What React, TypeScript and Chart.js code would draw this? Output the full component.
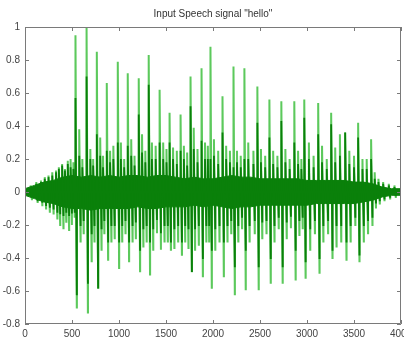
import { useEffect, useRef } from 'react';
import { Chart, registerables } from 'chart.js';

Chart.register(...registerables);

const titleText = 'Input Speech signal "hello"';
const xTicks = [0, 500, 1000, 1500, 2000, 2500, 3000, 3500, 4000];
const yTicks = [-0.8, -0.6, -0.4, -0.2, 0, 0.2, 0.4, 0.6, 0.8, 1];

// main pitch pulses (sample index, positive peak, negative peak)
const pulseX = [537, 655, 764, 870, 987, 1093, 1210, 1316, 1432, 1538, 1655, 1761, 1878, 1973, 2101, 2218, 2334, 2472, 2600, 2727, 2865, 2971, 3119, 3257, 3406, 3544, 3682];
const pulseHi = [0.95, 1.0, 0.85, 0.66, 0.79, 0.72, 0.69, 0.83, 0.62, 0.48, 0.47, 0.70, 0.75, 0.88, 0.58, 0.76, 0.75, 0.64, 0.56, 0.55, 0.55, 0.56, 0.54, 0.48, 0.36, 0.42, 0.32];
const pulseLo = [-0.70, -0.73, -0.58, -0.41, -0.46, -0.42, -0.48, -0.50, -0.35, -0.35, -0.38, -0.48, -0.51, -0.58, -0.51, -0.62, -0.59, -0.59, -0.55, -0.55, -0.53, -0.52, -0.49, -0.40, -0.41, -0.42, -0.20];
// darker inner part of the pulses
const pulseDarkHi = [0.57, 0.70, 0.35, 0.25, 0.30, 0.28, 0.47, 0.65, 0.30, 0.30, 0.25, 0.52, 0.31, 0.20, 0.36, 0.15, 0.20, 0.42, 0.33, 0.43, 0.30, 0.45, 0.35, 0.41, 0.36, 0.33, 0.20];
const pulseDarkLo = [-0.62, -0.55, -0.58, -0.30, -0.30, -0.30, -0.35, -0.30, -0.25, -0.30, -0.30, -0.48, -0.40, -0.35, -0.30, -0.45, -0.35, -0.45, -0.40, -0.45, -0.35, -0.42, -0.40, -0.35, -0.30, -0.38, -0.15];

// secondary oscillations
const secX = [60, 120, 170, 210, 250, 290, 330, 360, 395, 425, 455, 485, 515,
  577, 610, 695, 725, 800, 830, 905, 940, 1020, 1055, 1130, 1165, 1245, 1280, 1350, 1390,
  1470, 1505, 1575, 1615, 1690, 1725, 1795, 1835, 1915, 1945, 2010, 2055, 2140, 2180,
  2255, 2295, 2375, 2430, 2510, 2555, 2640, 2685, 2770, 2815, 2905, 2940, 3020, 3070,
  3160, 3210, 3300, 3350, 3450, 3500, 3590, 3635, 3720, 3760, 3810, 3870, 3930];
const secHi = [0.04, 0.06, 0.07, 0.09, 0.10, 0.12, 0.13, 0.15, 0.17, 0.14, 0.19, 0.20, 0.18,
  0.38, 0.20, 0.26, 0.20, 0.33, 0.22, 0.25, 0.28, 0.30, 0.20, 0.32, 0.22, 0.35, 0.25, 0.30, 0.28,
  0.30, 0.26, 0.27, 0.25, 0.28, 0.24, 0.39, 0.26, 0.30, 0.28, 0.32, 0.25, 0.28, 0.25,
  0.25, 0.22, 0.30, 0.25, 0.26, 0.22, 0.25, 0.22, 0.26, 0.20, 0.25, 0.20, 0.30, 0.22,
  0.28, 0.20, 0.27, 0.35, 0.25, 0.22, 0.20, 0.20, 0.12, 0.08, 0.06, 0.05, 0.04];
const secLo = [-0.05, -0.06, -0.08, -0.10, -0.12, -0.13, -0.16, -0.20, -0.22, -0.18, -0.23, -0.20, -0.15,
  -0.30, -0.25, -0.42, -0.30, -0.35, -0.25, -0.30, -0.28, -0.30, -0.25, -0.30, -0.28, -0.33, -0.30, -0.35, -0.25,
  -0.30, -0.30, -0.34, -0.30, -0.30, -0.34, -0.35, -0.32, -0.30, -0.30, -0.35, -0.30, -0.30, -0.25,
  -0.30, -0.22, -0.30, -0.25, -0.28, -0.25, -0.30, -0.22, -0.28, -0.22, -0.26, -0.22, -0.35, -0.25,
  -0.30, -0.25, -0.33, -0.30, -0.30, -0.20, -0.30, -0.25, -0.10, -0.07, -0.05, -0.04, -0.03];
// darker part of the secondary oscillations
const secDarkHi = [0.03, 0.05, 0.06, 0.08, 0.09, 0.10, 0.12, 0.14, 0.16, 0.13, 0.17, 0.15, 0.14,
  0.22, 0.15, 0.20, 0.16, 0.22, 0.15, 0.18, 0.20, 0.20, 0.15, 0.22, 0.16, 0.24, 0.18, 0.20, 0.20,
  0.20, 0.18, 0.20, 0.17, 0.20, 0.16, 0.26, 0.18, 0.20, 0.20, 0.22, 0.17, 0.20, 0.18,
  0.18, 0.15, 0.20, 0.17, 0.18, 0.15, 0.17, 0.15, 0.18, 0.14, 0.17, 0.14, 0.20, 0.15,
  0.18, 0.14, 0.18, 0.22, 0.17, 0.15, 0.14, 0.14, 0.08, 0.06, 0.05, 0.04, 0.03];
const secDarkLo = [-0.03, -0.05, -0.06, -0.08, -0.09, -0.10, -0.12, -0.13, -0.14, -0.12, -0.14, -0.13, -0.12,
  -0.20, -0.17, -0.25, -0.20, -0.22, -0.17, -0.20, -0.20, -0.20, -0.17, -0.20, -0.18, -0.22, -0.20, -0.22, -0.17,
  -0.20, -0.20, -0.22, -0.20, -0.20, -0.22, -0.22, -0.20, -0.20, -0.20, -0.22, -0.20, -0.20, -0.17,
  -0.20, -0.15, -0.20, -0.17, -0.18, -0.17, -0.20, -0.15, -0.18, -0.15, -0.17, -0.15, -0.22, -0.17,
  -0.20, -0.17, -0.20, -0.20, -0.20, -0.15, -0.20, -0.17, -0.07, -0.05, -0.04, -0.03, -0.02];

// dense core band
const coreX = [0, 100, 200, 300, 400, 500, 600, 700, 800, 900, 1000, 1100, 1200, 1300, 1400, 1500, 1600, 1700, 1800, 1900, 2000,
  2100, 2200, 2300, 2400, 2500, 2600, 2700, 2800, 2900, 3000, 3100, 3200, 3300, 3400, 3500, 3600, 3700, 3800, 3900, 4000];
const coreHi = [0.02, 0.04, 0.06, 0.07, 0.09, 0.10, 0.09, 0.10, 0.09, 0.10, 0.09, 0.10, 0.10, 0.09, 0.10, 0.10, 0.09, 0.08, 0.09, 0.08, 0.08,
  0.09, 0.10, 0.09, 0.09, 0.08, 0.08, 0.08, 0.08, 0.08, 0.07, 0.07, 0.07, 0.07, 0.07, 0.06, 0.06, 0.05, 0.03, 0.02, 0.02];
const coreLo = [-0.02, -0.04, -0.06, -0.07, -0.09, -0.10, -0.10, -0.11, -0.10, -0.10, -0.10, -0.10, -0.09, -0.10, -0.10, -0.09, -0.09, -0.09, -0.08, -0.09, -0.08,
  -0.09, -0.10, -0.09, -0.09, -0.08, -0.08, -0.08, -0.08, -0.08, -0.08, -0.07, -0.07, -0.07, -0.07, -0.07, -0.06, -0.05, -0.03, -0.02, -0.02];

const LIGHT = '#5cc95c';
const DARK = '#0a800a';
const FONT = '"Liberation Sans", Arial, sans-serif';

type Pt = { x: number; y: number };

function spikes(xs: number[], his: number[], los: number[]): Pt[] {
  const out: Pt[] = [];
  xs.forEach((x, i) => {
    out.push({ x: x - 1, y: 0 }, { x, y: his[i] }, { x: x + 14, y: los[i] }, { x: x + 15, y: 0 });
  });
  return out;
}

function merged(xa: number[], ha: number[], la: number[], xb: number[], hb: number[], lb: number[]): Pt[] {
  const items = xa.map((x, i) => ({ x, hi: ha[i], lo: la[i] }))
    .concat(xb.map((x, i) => ({ x, hi: hb[i], lo: lb[i] })))
    .sort((a, b) => a.x - b.x);
  return spikes(items.map(d => d.x), items.map(d => d.hi), items.map(d => d.lo));
}

const boxPlugin = {
  id: 'matlabBox',
  afterDatasetsDraw(chart: any) {
    const { ctx, chartArea, scales } = chart;
    const { left, right, top, bottom } = chartArea;
    ctx.save();
    ctx.strokeStyle = '#7a7a7a';
    ctx.lineWidth = 1;
    ctx.beginPath();
    ctx.rect(Math.round(left) + 0.5, Math.round(top) + 0.5, Math.round(right - left) - 1, Math.round(bottom - top) - 1);
    ctx.stroke();
    const tl = 4;
    ctx.beginPath();
    xTicks.forEach(v => {
      const px = Math.round(scales.x.getPixelForValue(v)) + 0.5;
      ctx.moveTo(px, bottom); ctx.lineTo(px, bottom - tl);
      ctx.moveTo(px, top); ctx.lineTo(px, top + tl);
    });
    yTicks.forEach(v => {
      const py = Math.round(scales.y.getPixelForValue(v)) + 0.5;
      ctx.moveTo(left, py); ctx.lineTo(left + tl, py);
      ctx.moveTo(right, py); ctx.lineTo(right - tl, py);
    });
    ctx.stroke();
    ctx.restore();
  },
};

export default function App() {
  const ref = useRef<HTMLCanvasElement | null>(null);
  useEffect(() => {
    document.body.style.margin = '0';
    if (!ref.current) return;
    const chart = new Chart(ref.current, {
      type: 'line',
      data: {
        datasets: [
          {
            label: 'dark oscillation',
            data: merged(pulseX, pulseDarkHi, pulseDarkLo, secX, secDarkHi, secDarkLo),
            borderColor: DARK, borderWidth: 1.8, pointRadius: 0, order: 1,
          },
          {
            label: 'core hi',
            data: coreX.map((x, i) => ({ x, y: coreHi[i] })),
            borderColor: DARK, backgroundColor: DARK, borderWidth: 1, pointRadius: 0, fill: 'origin', order: 2,
          },
          {
            label: 'core lo',
            data: coreX.map((x, i) => ({ x, y: coreLo[i] })),
            borderColor: DARK, backgroundColor: DARK, borderWidth: 1, pointRadius: 0, fill: 'origin', order: 2,
          },
          {
            label: 'signal',
            data: merged(pulseX, pulseHi, pulseLo, secX, secHi, secLo),
            borderColor: LIGHT, borderWidth: 2, pointRadius: 0, order: 3,
          },
        ],
      },
      options: {
        animation: false,
        responsive: true,
        maintainAspectRatio: false,
        layout: { padding: { left: 0, right: 3, top: 0, bottom: 0 } },
        plugins: {
          legend: { display: false },
          tooltip: { enabled: false },
          title: {
            display: true,
            text: titleText,
            fullSize: false,
            color: '#333333',
            font: { family: FONT, size: 10, weight: 'normal' },
            padding: { top: 8, bottom: 7 },
          },
        },
        elements: { line: { tension: 0 } },
        scales: {
          x: {
            type: 'linear',
            min: 0,
            max: 4000,
            grid: { display: false, drawTicks: false },
            border: { display: false },
            ticks: { color: '#444444', font: { family: FONT, size: 10 }, padding: 4, maxRotation: 0, autoSkip: false, callback: (v: any) => String(v) },
            afterBuildTicks: (s: any) => { s.ticks = xTicks.map(v => ({ value: v })); },
            afterFit: (s: any) => { s.height = 21; s.paddingLeft = 0; s.paddingRight = 0; },
          },
          y: {
            type: 'linear',
            min: -0.8,
            max: 1,
            grid: { display: false, drawTicks: false },
            border: { display: false },
            ticks: { color: '#444444', font: { family: FONT, size: 10 }, padding: 5, autoSkip: false, callback: (v: any) => String(Math.round(v * 10) / 10) },
            afterBuildTicks: (s: any) => { s.ticks = yTicks.map(v => ({ value: v })); },
            afterFit: (s: any) => { s.width = 25; s.paddingTop = 0; s.paddingBottom = 0; },
          },
        },
      },
      plugins: [boxPlugin],
    });
    return () => chart.destroy();
  }, []);
  return (
    <div style={{ width: 404, height: 345, position: 'relative', background: '#fff' }}>
      <canvas ref={ref} />
    </div>
  );
}
